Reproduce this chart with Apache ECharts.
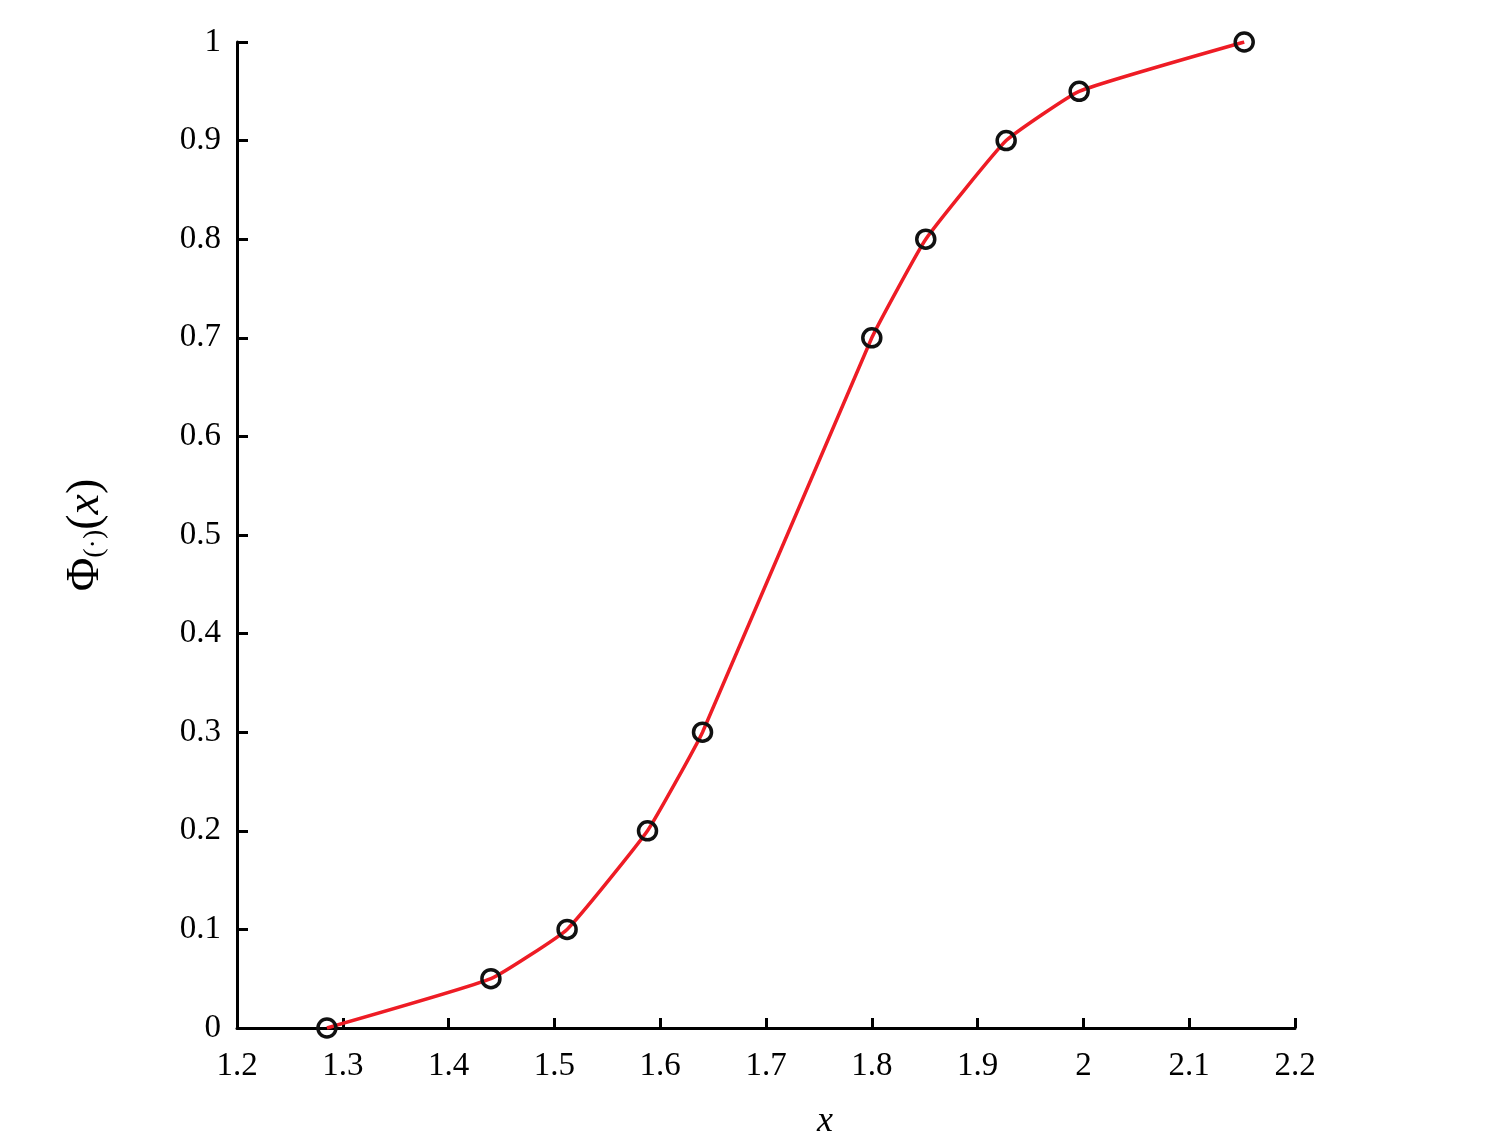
<!DOCTYPE html>
<html>
<head>
<meta charset="utf-8">
<script src="https://cdn.jsdelivr.net/npm/echarts@6/dist/echarts.min.js"></script>
<style>html,body{margin:0;padding:0;background:#fff;overflow:hidden;}#c{width:1497px;height:1145px;}</style>
</head>
<body>
<div id="c"></div>
<script>
const xValues = [1.285, 1.440, 1.512, 1.588, 1.640, 1.800, 1.851, 1.927, 1.996, 2.152];
const phiValues = [0, 0.05, 0.1, 0.2, 0.3, 0.7, 0.8, 0.9, 0.95, 1.0];

const chart = echarts.init(document.getElementById('c'));
const font = '"Liberation Serif", "Times New Roman", serif';
chart.setOption({
  backgroundColor: '#fff',
  animation: false,
  grid: { left: 237, right: 202, top: 42, bottom: 112 },
  xAxis: {
    type: 'value', min: 1.2, max: 2.2, interval: 0.1,
    name: 'x', nameLocation: 'middle', nameGap: 76,
    nameTextStyle: { fontFamily: font, fontSize: 36, fontStyle: 'italic', color: '#000', padding: [0, 0, 0, 118] },
    axisLine: { lineStyle: { color: '#000', width: 3 } },
    axisTick: { inside: true, length: 10, lineStyle: { color: '#000', width: 3 } },
    axisLabel: { margin: 22, fontFamily: font, fontSize: 33, color: '#000',
      formatter: v => String(Math.round(v * 10) / 10) },
    splitLine: { show: false }
  },
  yAxis: {
    type: 'value', min: 0, max: 1, interval: 0.1,
    name: '{p|Φ}{s|(·)}{p|(}{i|x}{p|)}', nameLocation: 'middle', nameGap: 128, nameRotate: 90,
    nameTextStyle: {
      fontFamily: font, color: '#000',
      rich: {
        p: { fontFamily: font, fontSize: 46, color: '#000', verticalAlign: 'bottom', lineHeight: 52 },
        i: { fontFamily: font, fontSize: 46, fontStyle: 'italic', color: '#000', verticalAlign: 'bottom', lineHeight: 52 },
        s: { fontFamily: font, fontSize: 28, color: '#000', verticalAlign: 'bottom', lineHeight: 42 }
      }
    },
    axisLine: { lineStyle: { color: '#000', width: 3 } },
    axisTick: { inside: true, length: 11, lineStyle: { color: '#000', width: 3 } },
    axisLabel: { margin: 16, fontFamily: font, fontSize: 33, color: '#000' },
    splitLine: { show: false }
  },
  series: [{
    type: 'line',
    data: xValues.map((x, i) => [x, phiValues[i]]),
    smooth: 0.12,
    lineStyle: { color: '#ee1c25', width: 3.5 },
    symbol: 'circle', symbolSize: 18,
    itemStyle: { color: 'rgba(0,0,0,0)', borderColor: '#111', borderWidth: 3.5 },
    z: 3
  }]
});
</script>
</body>
</html>
